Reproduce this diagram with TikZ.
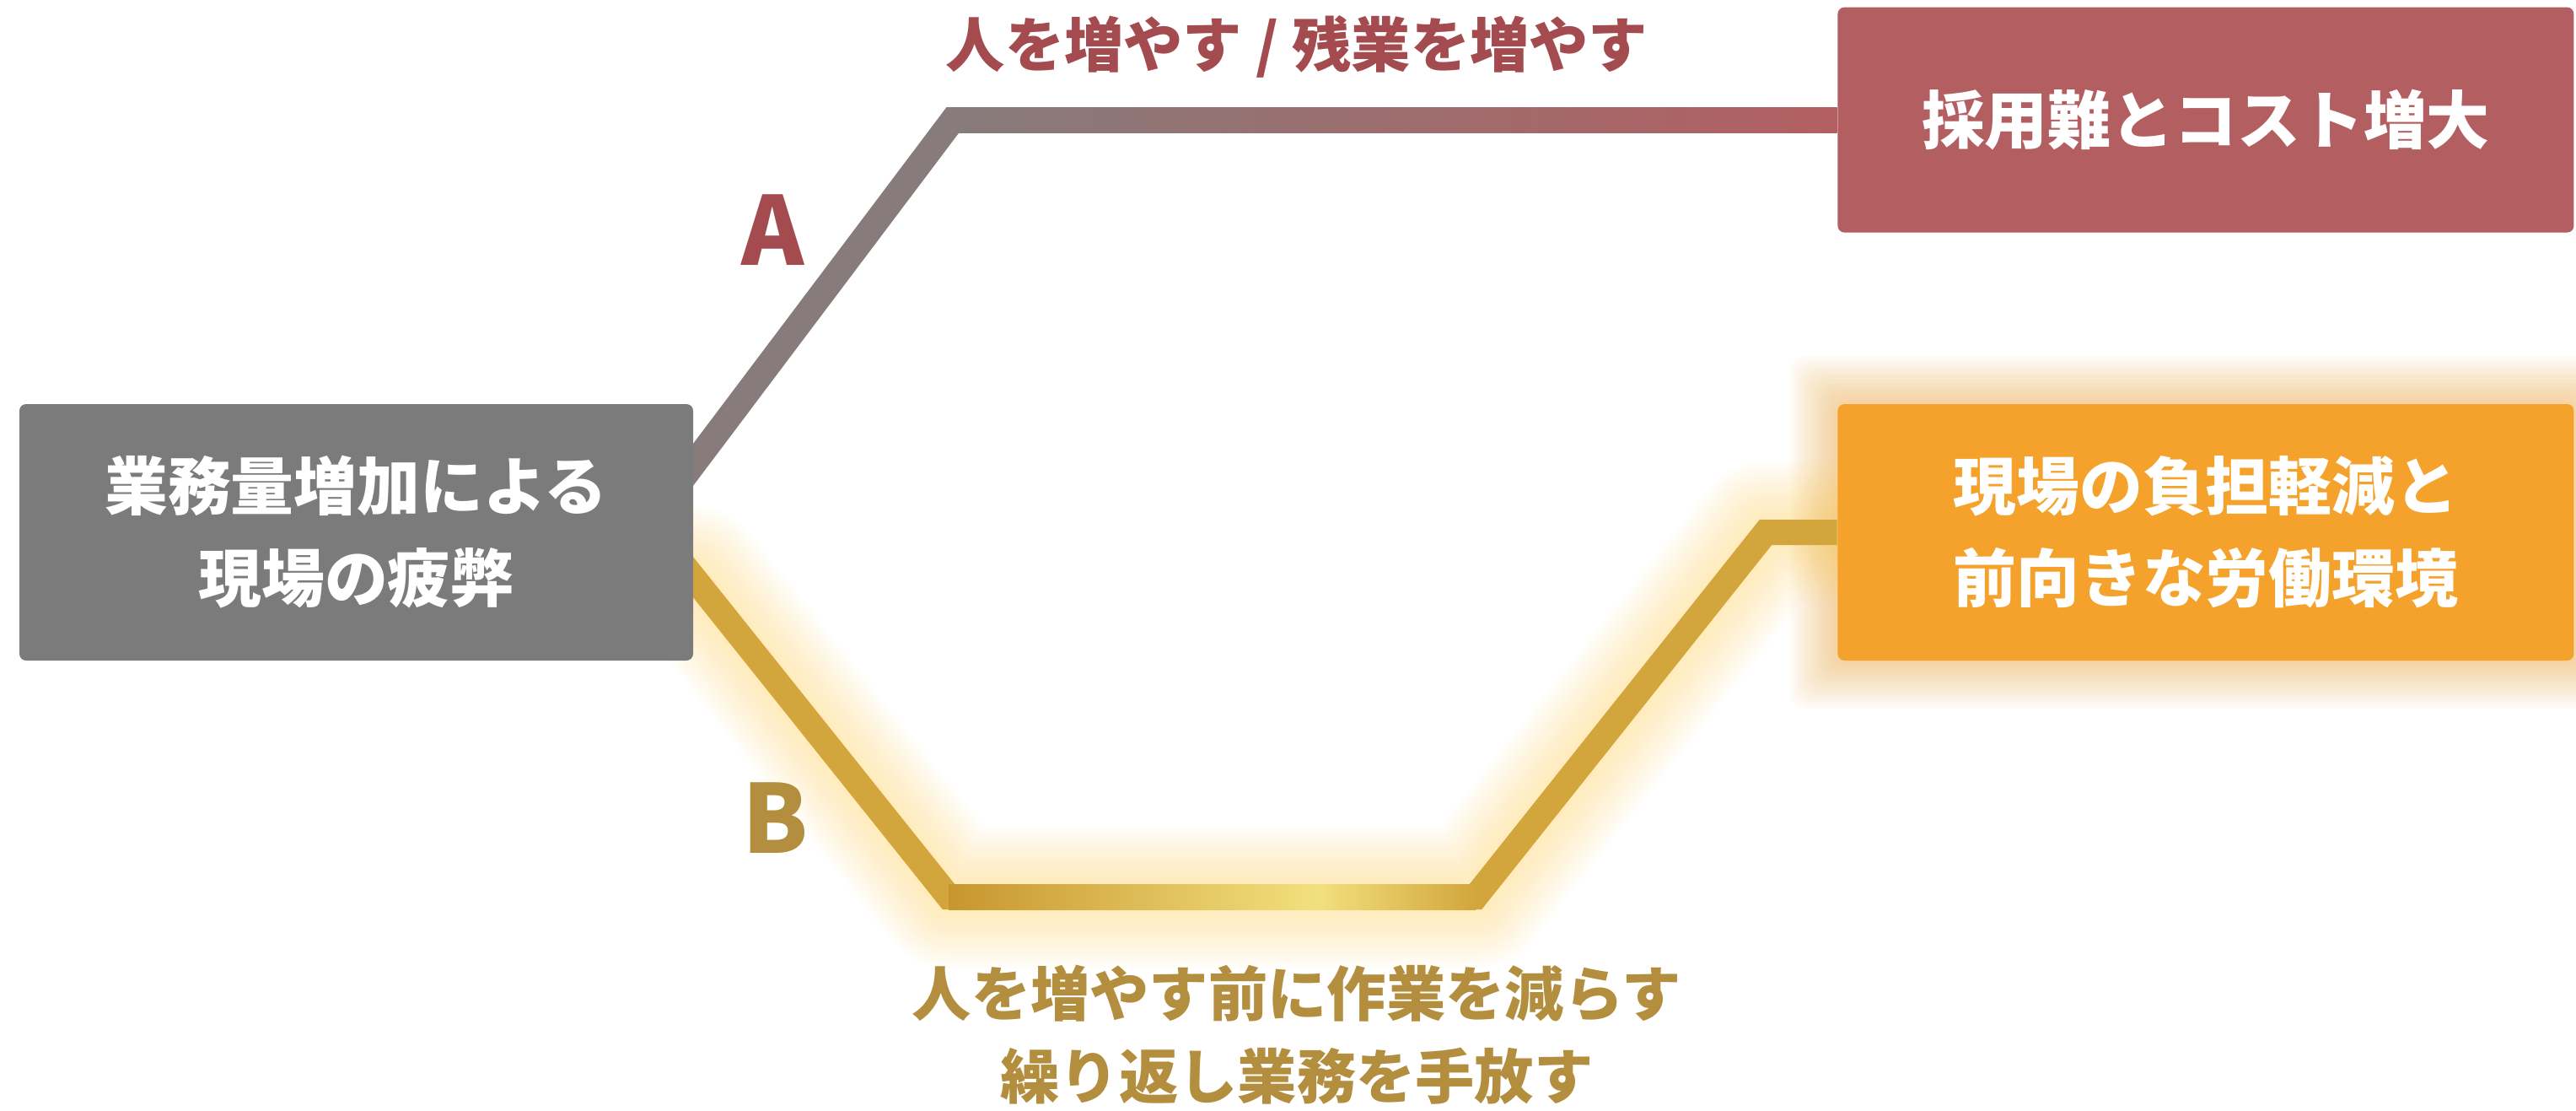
\documentclass[tikz,border=0pt]{standalone}
\usepackage{fontspec}
\setmainfont{Noto Sans CJK JP}
\usetikzlibrary{positioning}
\usetikzlibrary{calc}
\usetikzlibrary{backgrounds}

\definecolor{boxgray}{HTML}{7B7B7B}
\definecolor{costred}{HTML}{B35F61}
\definecolor{goodorange}{HTML}{F5A22C}
\definecolor{lineagray}{HTML}{877B7B}
\definecolor{gold}{HTML}{D2A63C}
\definecolor{golddark}{HTML}{C8962E}
\definecolor{goldlight}{HTML}{F2E07E}
\definecolor{glowyellow}{HTML}{FFD75A}
\definecolor{labelred}{HTML}{A44B4F}
\definecolor{labelgold}{HTML}{B38E3E}

\begin{document}
\begin{tikzpicture}[box/.style={rectangle, rounded corners=0.8mm, text=white, font=\bfseries\fontsize{21.3}{31}\selectfont, align=center, inner sep=0pt},
    pathlabel/.style={font=\bfseries\fontsize{20}{27.9}\selectfont, align=center},
    letter/.style={font=\bfseries\fontsize{32}{32}\selectfont},
    route/.style={line width=3mm, line join=miter}]
    \useasboundingbox (0,0) rectangle (30.55,-13.16);

    % boxes
    \node[box, fill=boxgray, minimum width=7.99cm, minimum height=3.04cm] (stress) at (4.225,-6.31) {業務量増加による\\現場の疲弊};
    \node[box, fill=goodorange, minimum width=8.73cm, minimum height=3.04cm, right = 13.56cm of stress] (goodbox) {現場の負担軽減と\\前向きな労働環境};
    \node[box, fill=costred, minimum width=8.73cm, minimum height=2.67cm, above = 2.02cm of goodbox] (costbox) {採用難とコスト増大};

    % bends of the two routes
    \coordinate (a0) at ([yshift=8.1mm]stress.east);
    \coordinate (a1) at (11.30,0 |- costbox.west);
    \coordinate (b0) at ([yshift=-5.4mm]stress.east);
    \coordinate (b1) at (11.25,-10.63);
    \coordinate (b2) at (17.50,-10.63);
    \coordinate (b3) at (20.94,0 |- goodbox.west);
    \coordinate (bh) at ($(b1)!0.7!(b2)$);

    \begin{scope}[on background layer]
        \fill[white] (0,0) rectangle (30.55,-13.16);
        \foreach \k in {1,...,14} {
            \draw[glowyellow, line width=\k*0.12cm, opacity=0.04, line join=round, line cap=round] (b0) -- (b1) -- (b2) -- (b3) -- (goodbox.west);
            \fill[goodorange, opacity=0.035, rounded corners=2mm] ($(goodbox.south west)+(-\k*0.04,-\k*0.04)$) rectangle ($(goodbox.north east)+(\k*0.04,\k*0.04)$);
        }

        % route A
        \draw[route, lineagray] ($(a0)!-5mm!(a1)$) -- (a1) -- (costbox.west);
        \shade[left color=lineagray, right color=costred] ($(a1)+(0,-1.5mm)$) rectangle ($(costbox.west)+(0,1.5mm)$);

        % route B
        \draw[route, gold] ($(b0)!-5mm!(b1)$) -- (b1) -- (b2) -- (b3) -- (goodbox.west);
        \shade[left color=golddark, right color=goldlight] ($(b1)+(0,-1.5mm)$) rectangle ($(bh)+(0,1.5mm)$);
        \shade[left color=goldlight, right color=gold] ($(bh)+(0,-1.5mm)$) rectangle ($(b2)+(0,1.5mm)$);
    \end{scope}

    % labels
    \node[letter, text=labelred] (labelA) at (9.17,-2.73) {A};
    \node[letter, text=labelgold] (labelB) at (9.20,-9.70) {B};
    \node[pathlabel, text=labelred] (textA) at (15.38,-0.55) {人を増やす / 残業を増やす};
    \node[pathlabel, text=labelgold] (textB) at (15.38,-12.27) {人を増やす前に作業を減らす\\繰り返し業務を手放す};
\end{tikzpicture}
\end{document}
